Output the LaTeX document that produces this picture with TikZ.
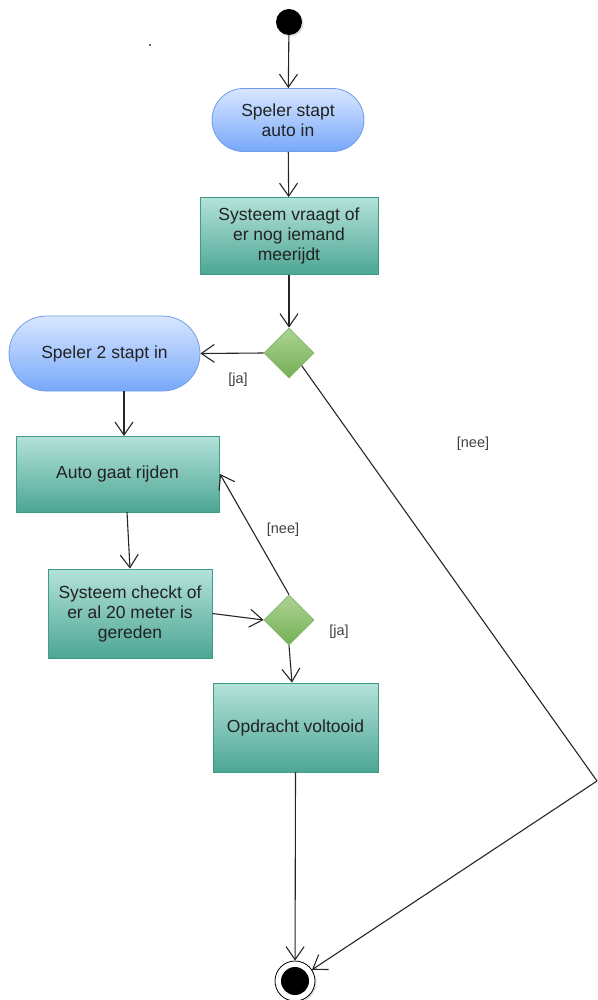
\documentclass[tikz,border=0pt]{standalone}
\usepackage{fontspec}
\setmainfont{Liberation Sans}
\usetikzlibrary{arrows.meta,shapes.geometric,shapes.misc,shadows}
\definecolor{bluetop}{HTML}{D8E7FF}
\definecolor{bluebot}{HTML}{78A8FA}
\definecolor{blueline}{HTML}{6E9EE6}
\definecolor{tealtop}{HTML}{B4E2D9}
\definecolor{tealbot}{HTML}{4CA694}
\definecolor{tealline}{HTML}{3F9C87}
\definecolor{greentop}{HTML}{ADD394}
\definecolor{greenbot}{HTML}{74B055}
\definecolor{greenline}{HTML}{86B56A}
\definecolor{txt}{HTML}{222222}
\tikzset{
  flow/.style={draw=black!85, line width=1.1pt,
    -{Straight Barb[length=13pt,width=18pt,line width=1.1pt]}},
  plain/.style={draw=black!85, line width=1.1pt},
  state/.style={rounded rectangle, draw=blueline, line width=0.8pt,
    top color=bluetop, bottom color=bluebot, text=txt,
    font=\fontsize{17.5}{20}\selectfont, align=center, inner sep=0pt},
  action/.style={rectangle, draw=tealline, line width=0.8pt,
    top color=tealtop, bottom color=tealbot, text=txt,
    font=\fontsize{17.5}{20}\selectfont, align=center, inner sep=0pt},
  choice/.style={diamond, draw=greenline, line width=0.8pt,
    top color=greentop, bottom color=greenbot, inner sep=0pt,
    minimum width=50pt, minimum height=50pt},
  guard/.style={font=\fontsize{14.5}{16}\selectfont, text=black!75},
}
\begin{document}
\begin{tikzpicture}[x=1pt,y=-1pt]
\useasboundingbox (0,0) rectangle (597,1000);

% initial and final states
\node[circle, fill=black, minimum size=26pt, inner sep=0pt,
  drop shadow={shadow xshift=1.5pt, shadow yshift=-1.5pt, opacity=0.25}] (start) at (289,22) {};
\node[circle, draw=black, line width=0.8pt, fill=white, minimum size=40pt, inner sep=0pt,
  drop shadow={shadow xshift=1.5pt, shadow yshift=-1.5pt, opacity=0.25}] (end) at (295,981) {};
\node[circle, fill=black, minimum size=28pt, inner sep=0pt] at (end) {};

% activities
\node[state, minimum width=152pt, minimum height=63pt] (instap) at (288,120) {Speler stapt\\auto in};
\node[action, minimum width=178pt, minimum height=77pt] (vraag) at (289,236) {Systeem vraagt of\\er nog iemand\\meerijdt};
\node[choice] (d1) at (289,353) {};
\node[state, minimum width=191pt, minimum height=75pt] (speler2) at (104.5,353.5) {Speler 2 stapt in};
\node[action, minimum width=203pt, minimum height=76pt] (rijden) at (117.5,474) {Auto gaat rijden};
\node[action, minimum width=164pt, minimum height=89pt] (check) at (130,613.5) {Systeem checkt of\\er al 20 meter is\\gereden};
\node[choice] (d2) at (289,620) {};
\node[action, minimum width=165pt, minimum height=89pt] (klaar) at (295.5,727.5) {Opdracht voltooid};

\coordinate (bend) at (597,781);

% small stray dot
\fill[black!60] (149,44) rectangle (151,46);

% connectors
\draw[flow] (start) -- (instap);
\draw[flow] (instap) -- (vraag);
\draw[flow] (vraag) -- (d1);
\draw[flow] (d1.west) -- (speler2.east);
\draw[plain] (d1.south east) -- (bend);
\draw[flow] (bend) -- (end);
\draw[flow] (speler2.south -| 124,0) -- (124,436);
\draw[flow] (127,512) -- (check.north);
\draw[flow] (check.east) -- (d2.west);
\draw[flow] (d2.north) -- (220,474);
\draw[flow] (d2.south) -- (klaar.north -| 292,0);
\draw[flow] (klaar.south) -- (end);

% guards
\node[guard] (g1) at (238,380) {[ja]};
\node[guard] (g2) at (473,444) {[nee]};
\node[guard] (g3) at (283,530) {[nee]};
\node[guard] (g4) at (339,632) {[ja]};
\end{tikzpicture}
\end{document}
